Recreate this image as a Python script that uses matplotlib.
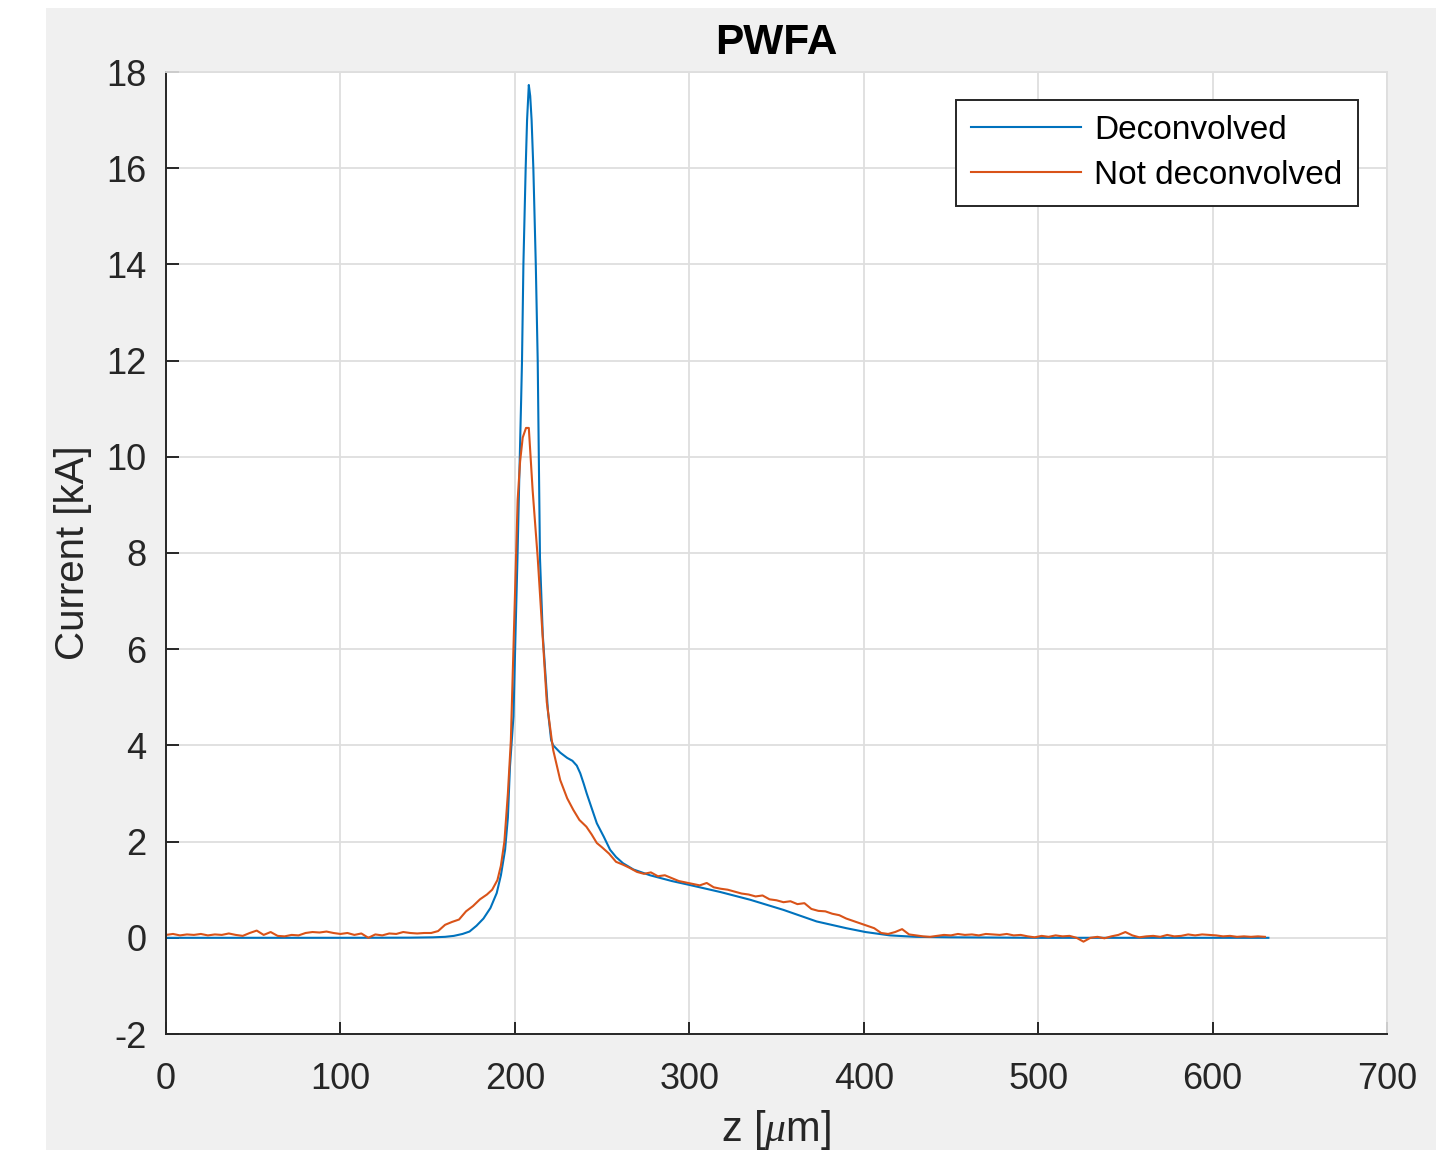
import numpy as np
import matplotlib.pyplot as plt
from matplotlib.patches import Rectangle

# deconvolved current profile
z_dec = [0, 100, 140, 153, 160, 165, 170, 174, 178, 182, 186, 189.6, 192, 194.4,
         196, 197.2, 199.2, 200.5, 201.5, 202.5, 203.6, 204.1, 204.9, 206.2, 207,
         208, 208.8, 209.6, 210.6, 212, 213.1, 214.4, 216, 217.5, 219, 220.8, 222,
         226, 230, 233, 235.5, 237.5, 239.5, 241.2, 244, 247, 251, 254.6, 258, 262,
         268, 277.5, 290, 300, 318, 335, 354, 373, 390, 401, 415, 430, 450, 500, 632]
i_dec = [0, 0, 0.003, 0.01, 0.02, 0.04, 0.08, 0.13, 0.25, 0.4, 0.62, 0.93, 1.3, 1.83,
         2.5, 3.56, 4.6, 6.5, 7.9, 9.5, 11.18, 12.0, 14.0, 16.0, 17.0,
         17.73, 17.5, 17.0, 16.0, 14.0, 12.0, 7.9, 6.3, 5.5, 4.7, 4.11, 4.0,
         3.85, 3.74, 3.68, 3.58, 3.42, 3.2, 3.0, 2.7, 2.38, 2.1, 1.83, 1.68, 1.55,
         1.42, 1.3, 1.18, 1.1, 0.95, 0.79, 0.58, 0.34, 0.2, 0.12, 0.05, 0.02, 0.01,
         0.0, 0.0]

# measured (not deconvolved) profile
z_raw = [0, 4, 8, 12, 16, 20, 24, 28, 32, 36, 40, 44, 48, 52, 56, 60, 64, 68, 72, 76,
         80, 84, 88, 92, 96, 100, 104, 108, 112, 116, 120, 124, 128, 132, 136, 140,
         144, 148, 152, 156, 160, 164, 168, 172, 176, 180, 184, 187, 190, 192, 194,
         196, 197.7, 199.2, 200.7, 201.6, 203, 204.5, 206.4, 208, 209, 210.2, 213.1,
         216.4, 218.3, 221.2, 222, 226, 230, 233.5, 237, 241, 244, 247, 250, 254,
         258, 262, 266, 270, 274, 278, 282, 286, 290, 294, 298, 302, 306, 310, 314,
         318, 322, 326, 330, 334, 338, 342, 346, 350, 354, 358, 362, 366, 370, 374,
         378, 382, 386, 390, 394, 398, 402, 406, 410, 414, 418, 422, 426, 430, 434,
         438, 442, 446, 450, 454, 458, 462, 466, 470, 474, 478, 482, 486, 490, 494,
         498, 502, 506, 510, 514, 518, 522, 526, 530, 534, 538, 542, 546, 550, 554,
         558, 562, 566, 570, 574, 578, 582, 586, 590, 594, 598, 602, 606, 610, 614,
         618, 622, 626, 630]
i_raw = [0.06, 0.08, 0.05, 0.07, 0.06, 0.08, 0.05, 0.07, 0.06, 0.09, 0.06, 0.04, 0.10,
         0.15, 0.06, 0.12, 0.04, 0.03, 0.06, 0.05, 0.10, 0.12, 0.11, 0.13, 0.10, 0.08,
         0.10, 0.06, 0.09, 0.00, 0.07, 0.05, 0.09, 0.08, 0.12, 0.10, 0.09, 0.10, 0.10,
         0.14, 0.27, 0.33, 0.38, 0.55, 0.66, 0.80, 0.90, 1.00, 1.20, 1.50, 2.00,
         3.00, 4.10, 6.00, 7.90, 9.10, 9.90, 10.40, 10.60, 10.60, 10.00, 9.30, 7.90,
         6.00, 4.90, 4.10, 3.90, 3.28, 2.90, 2.66, 2.45, 2.31, 2.15, 1.97, 1.88, 1.75,
         1.58, 1.52, 1.45, 1.37, 1.33, 1.36, 1.28, 1.30, 1.24, 1.18, 1.15, 1.12, 1.09,
         1.14, 1.05, 1.02, 1.00, 0.96, 0.92, 0.90, 0.86, 0.88, 0.80, 0.78, 0.74, 0.76,
         0.70, 0.72, 0.60, 0.56, 0.55, 0.50, 0.47, 0.40, 0.35, 0.30, 0.25, 0.20, 0.10,
         0.08, 0.12, 0.18, 0.07, 0.05, 0.03, 0.02, 0.04, 0.06, 0.05, 0.08, 0.06, 0.07,
         0.05, 0.08, 0.07, 0.06, 0.08, 0.05, 0.06, 0.03, 0.01, 0.04, 0.02, 0.05, 0.03,
         0.04, 0.00, -0.08, 0.00, 0.02, -0.01, 0.03, 0.06, 0.12, 0.05, 0.01, 0.03,
         0.04, 0.02, 0.06, 0.03, 0.04, 0.07, 0.05, 0.07, 0.06, 0.05, 0.03, 0.04, 0.02,
         0.03, 0.02, 0.03, 0.02]

x_ticks = [0, 100, 200, 300, 400, 500, 600, 700]
y_ticks = [-2, 0, 2, 4, 6, 8, 10, 12, 14, 16, 18]

txt = '#262626'
plt.rcParams['font.family'] = ['Liberation Sans', 'DejaVu Sans']
plt.rcParams['axes.unicode_minus'] = False
plt.rcParams['mathtext.fontset'] = 'custom'
plt.rcParams['mathtext.it'] = 'Liberation Serif:italic'

fig = plt.figure(figsize=(14.54, 11.54), dpi=100, facecolor='white')
# gray figure panel like the matlab window
fig.patches.append(Rectangle((46 / 1454, 4 / 1154), 1390 / 1454, 1142 / 1154,
                             transform=fig.transFigure, facecolor='#f0f0f0',
                             edgecolor='none', zorder=-10))

ax = fig.add_axes([166 / 1454, 1 - 1034 / 1154, 1221 / 1454, 962 / 1154])
ax.set_facecolor('white')

ax.plot(z_dec, i_dec, color='#0072BD', lw=1.5, label='Deconvolved')
ax.plot(z_raw, i_raw, color='#D95319', lw=1.5, label='Not deconvolved')

ax.set_xlim(0, 700)
ax.set_ylim(-2, 18)
ax.set_xticks(x_ticks)
ax.set_yticks(y_ticks)
ax.grid(True, color='#dedede', lw=1.3)
ax.set_axisbelow(True)

for s in ['left', 'bottom']:
    ax.spines[s].set_color(txt)
    ax.spines[s].set_linewidth(1.4)
for s in ['top', 'right']:
    ax.spines[s].set_color('#dedede')
    ax.spines[s].set_linewidth(1.3)

ax.tick_params(direction='in', length=9, width=1.4, colors=txt, labelsize=26)
ax.tick_params(axis='x', pad=20)
ax.tick_params(axis='y', pad=14)
ax.tick_params(top=False, right=False)

ax.set_title('PWFA', fontsize=30.5, fontweight='bold', color='black', pad=13)
ax.set_xlabel(r'z [$\mu$m]', fontsize=30, color=txt, labelpad=8)
ax.set_ylabel('Current [kA]', fontsize=29, color=txt, labelpad=10)

leg = ax.legend(loc='upper right', bbox_to_anchor=(0.9895, 0.9885), fontsize=24,
                fancybox=False, framealpha=1, edgecolor=txt, handlelength=3.3,
                handletextpad=0.4, borderpad=0.45, labelspacing=0.42)
leg.get_frame().set_linewidth(1.4)

fig.savefig('out.png', dpi=100, facecolor='white')
